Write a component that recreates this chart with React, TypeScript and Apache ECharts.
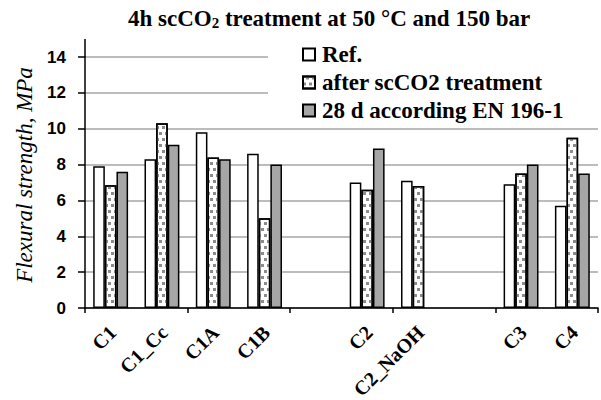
import React, { useEffect, useRef } from "react";
import * as echarts from "echarts";

const categories = ["C1", "C1_Cc", "C1A", "C1B", " ", "C2", "C2_NaOH", "  ", "C3", "C4"];
const refValues = [7.9, 8.3, 9.8, 8.6, null, 7.0, 7.1, null, 6.9, 5.7];
const afterValues = [6.85, 10.3, 8.4, 5.0, null, 6.6, 6.8, null, 7.5, 9.5];
const en196Values = [7.6, 9.1, 8.3, 8.0, null, 8.9, null, null, 8.0, 7.5];
const seriesNames = ["Ref.", "after scCO2 treatment", "28 d according EN 196-1"];
const yTicks = { min: 0, max: 14, interval: 2 };

const SERIF = "'Liberation Serif', 'Times New Roman', serif";
const SANS = "'Liberation Sans', Arial, sans-serif";

export default function App() {
  const ref = useRef<HTMLDivElement>(null);
  useEffect(() => {
    if (!ref.current) return;
    const chart = echarts.init(ref.current, null, { renderer: "svg" });
    const border = { borderColor: "#000", borderWidth: 1.5 };
    const baseGraphics: any[] = [
      {
        type: "rect",
        z: 5,
        shape: { x: 268, y: 44, width: 333, height: 80 },
        style: { fill: "#fff" },
      },
      {
        type: "line",
        z: 5,
        shape: { x1: 85, y1: 39, x2: 85, y2: 57 },
        style: { stroke: "#000", lineWidth: 1.5 },
      },
      {
        type: "text",
        x: 24,
        y: 175,
        rotation: Math.PI / 2,
        style: {
          text: "Flexural strength, MPa",
          font: "italic 23px " + SERIF,
          fill: "#000",
          textAlign: "center",
          textVerticalAlign: "middle",
        },
      },
    ];
    chart.setOption({
      animation: false,
      backgroundColor: "#fff",
      title: {
        left: 128,
        top: 5,
        padding: 0,
        text: "{a|4h scCO}{s|2}{a| treatment at 50 °C and 150 bar}",
        textStyle: {
          rich: {
            a: { fontFamily: SERIF, fontWeight: "bold", fontSize: 23, color: "#000", lineHeight: 26 },
            s: { fontFamily: SERIF, fontWeight: "bold", fontSize: 15, color: "#000", lineHeight: 26, padding: [10, 0, 0, 0] },
          },
        },
      },
      legend: {
        orient: "vertical",
        left: 302,
        top: 43,
        padding: 0,
        itemGap: 5,
        itemWidth: 12,
        itemHeight: 12,
        icon: "rect",
        z: 10,
        data: seriesNames,
        textStyle: { fontFamily: SERIF, fontWeight: "bold", fontSize: 23, color: "#000", padding: [0, 0, 0, 2] },
      },
      grid: { left: 85, right: 3, top: 57, bottom: 92 },
      xAxis: {
        type: "category",
        data: categories,
        axisLine: { lineStyle: { color: "#000", width: 1.5 } },
        axisTick: { show: true, length: 5, lineStyle: { color: "#000", width: 1.5 } },
        axisLabel: { show: false },
      },
      yAxis: {
        type: "value",
        min: yTicks.min,
        max: yTicks.max,
        interval: yTicks.interval,
        axisLine: { show: true, lineStyle: { color: "#000", width: 1.5 } },
        axisTick: { show: true, length: 7, lineStyle: { color: "#000", width: 1.5 } },
        axisLabel: { margin: 19, fontFamily: SANS, fontWeight: "bold", fontSize: 17, color: "#000" },
        splitLine: { lineStyle: { color: "#a6a6a6", width: 1.5 } },
      },
      graphic: { elements: baseGraphics },
      series: [
        {
          name: seriesNames[0],
          type: "bar",
          data: refValues,
          barCategoryGap: "32%",
          barGap: "0%",
          itemStyle: { color: "#fff", ...border },
        },
        {
          name: seriesNames[1],
          type: "bar",
          data: afterValues,
          barCategoryGap: "32%",
          barGap: "0%",
          itemStyle: {
            color: "#fff",
            ...border,
            decal: {
              symbol: "rect",
              symbolSize: 1,
              color: "#8c8c8c",
              dashArrayX: [[3, 3], [0, 3, 3, 0]],
              dashArrayY: [3, 3],
              rotation: 0,
            },
          },
        },
        {
          name: seriesNames[2],
          type: "bar",
          data: en196Values,
          barCategoryGap: "32%",
          barGap: "0%",
          itemStyle: { color: "#a6a6a6", ...border },
        },
      ],
    });

    // x-axis category labels, rotated 45°, placed from the axis' own scale
    const y0 = chart.convertToPixel({ yAxisIndex: 0 }, 0) as number;
    const labelGraphics = categories
      .filter((c) => c.trim() !== "")
      .map((c) => {
        const x = chart.convertToPixel({ xAxisIndex: 0 }, c) as number;
        return {
          type: "text",
          x: x + 2,
          y: y0 + 21,
          rotation: Math.PI / 4,
          style: {
            text: c,
            font: "bold 20px " + SERIF,
            fill: "#000",
            textAlign: "right",
            textVerticalAlign: "middle",
          },
        };
      });
    chart.setOption({ graphic: { elements: [...baseGraphics, ...labelGraphics] } });

    return () => chart.dispose();
  }, []);
  return <div ref={ref} style={{ width: 601, height: 400, position: "absolute", left: 0, top: 0 }} />;
}
